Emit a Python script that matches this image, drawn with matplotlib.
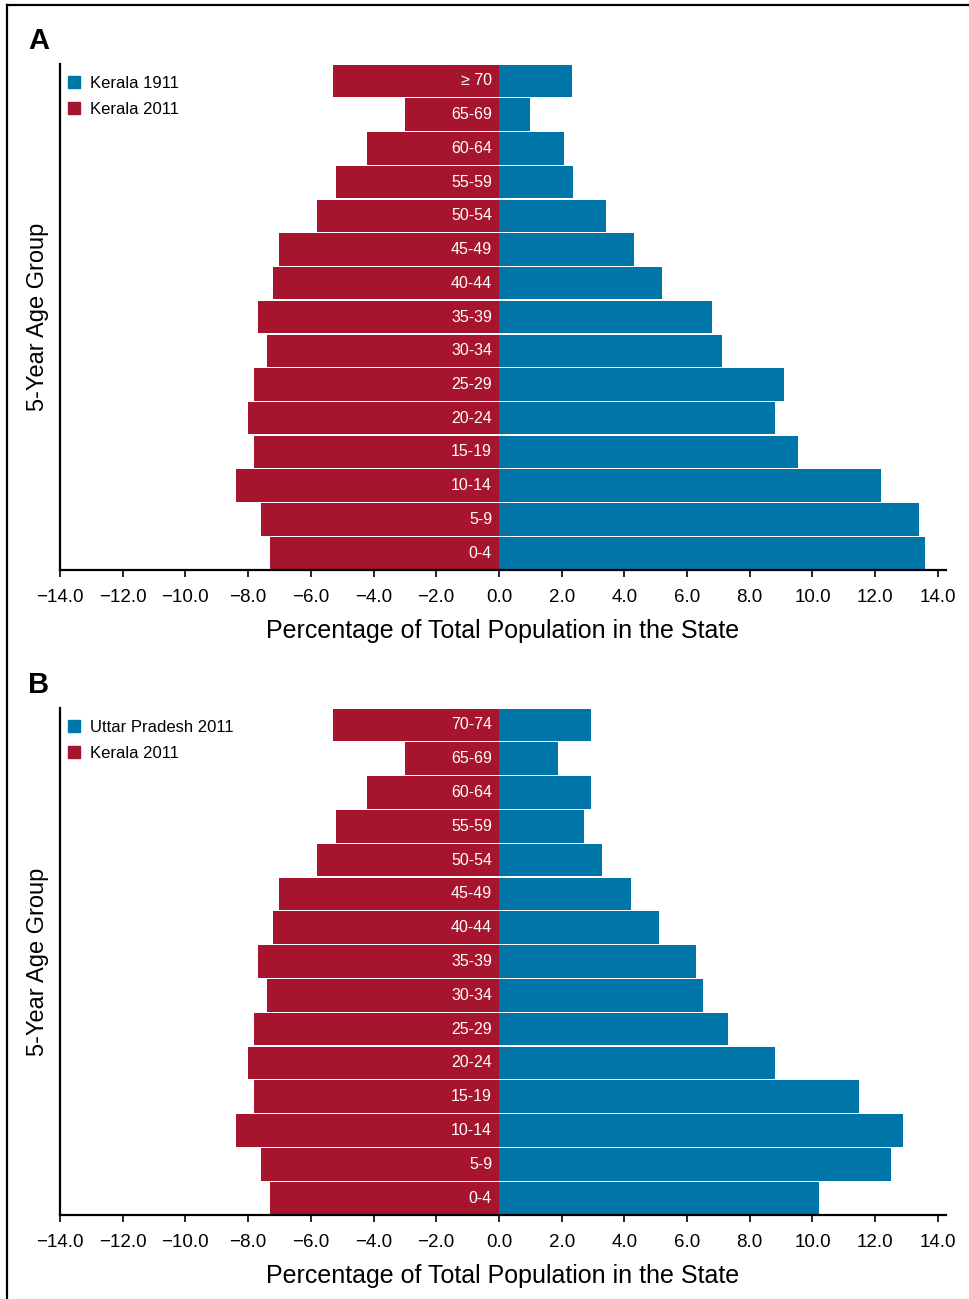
import matplotlib
matplotlib.use("Agg")
import matplotlib.pyplot as plt
from matplotlib.lines import Line2D
from matplotlib.patches import Patch
from matplotlib import font_manager

# ── Data ──────────────────────────────────────────────────────────────────────
ages_a = ["0-4", "5-9", "10-14", "15-19", "20-24", "25-29", "30-34", "35-39",
          "40-44", "45-49", "50-54", "55-59", "60-64", "65-69", "\u2265 70"]
ages_b = ages_a[:-1] + ["70-74"]

kerala_2011 = [7.3, 7.6, 8.4, 7.8, 8.0, 7.8, 7.4, 7.7,
               7.2, 7.0, 5.8, 5.2, 4.2, 3.0, 5.3]
kerala_1911 = [13.6, 13.4, 12.2, 9.55, 8.8, 9.1, 7.1, 6.8,
               5.2, 4.3, 3.4, 2.35, 2.07, 1.0, 2.32]
up_2011 = [10.2, 12.5, 12.9, 11.5, 8.8, 7.3, 6.5, 6.3,
           5.1, 4.2, 3.3, 2.7, 2.93, 1.9, 2.93]

xticks = [-14, -12, -10, -8, -6, -4, -2, 0, 2, 4, 6, 8, 10, 12, 14]

RED = "#A6152D"
BLUE = "#0076A8"

names = {f.name for f in font_manager.fontManager.ttflist}
narrow = ["Liberation Sans Narrow"] if "Liberation Sans Narrow" in names else []
cond_family = narrow + ["Liberation Sans", "DejaVu Sans"]
plain_family = ["Liberation Sans", "DejaVu Sans"]

plt.rcParams["font.family"] = plain_family

fig = plt.figure(figsize=(9.7, 12.99), dpi=100)

# frame lines (top and left)
fig.add_artist(Line2D([7 / 970, 1.0], [1 - 5 / 1299] * 2, color="black", lw=1.6,
                      transform=fig.transFigure))
fig.add_artist(Line2D([7 / 970] * 2, [0, 1 - 5 / 1299], color="black", lw=1.6,
                      transform=fig.transFigure))


def panel(rect, letter, ages, left_vals, right_vals, right_name, left_name):
    ax = fig.add_axes(rect)
    y = list(range(len(ages)))
    neg = [-v for v in left_vals]
    ax.barh(y, neg, height=0.96, color=RED, edgecolor="none")
    ax.barh(y, right_vals, height=0.96, color=BLUE, edgecolor="none")
    for yi, lab in zip(y, ages):
        ax.text(-0.22, yi, lab, color="white", ha="right", va="center",
                fontsize=11.5, family=plain_family)
    ax.set_xlim(-14, 14.26)
    ax.set_ylim(-0.5, len(ages) - 0.5)
    ax.set_xticks(xticks)
    ax.set_xticklabels([f"{t:.1f}".replace("-", "\u2212") for t in xticks],
                       family=cond_family, fontsize=13.5)
    ax.set_yticks([])
    for s in ("top", "right"):
        ax.spines[s].set_visible(False)
    ax.spines["left"].set_linewidth(1.6)
    ax.spines["bottom"].set_linewidth(1.6)
    ax.tick_params(axis="x", direction="out", length=5, width=1.2, pad=9)
    ax.set_xlabel("Percentage of Total Population in the State",
                  family=cond_family, fontsize=18, labelpad=9)
    ax.set_ylabel("5-Year Age Group", family=plain_family, fontsize=17,
                  labelpad=8)
    handles = [Patch(color=BLUE, label=right_name),
               Patch(color=RED, label=left_name)]
    ax.legend(handles=handles, loc="upper left", frameon=False, fontsize=12,
              handlelength=0.7, handleheight=0.7, handletextpad=0.6,
              labelspacing=0.65, borderaxespad=0.3,
              bbox_to_anchor=(-0.004, 1.0))
    ax.text(-0.036, 1.0 + 23 / 506, letter, transform=ax.transAxes,
            fontsize=21, fontweight="bold", ha="left", va="center")
    return ax


panel([60 / 970, 1 - 570 / 1299, 886 / 970, 506 / 1299], "A",
      ages_a, kerala_2011, kerala_1911, "Kerala 1911", "Kerala 2011")
panel([60 / 970, 1 - 1215 / 1299, 886 / 970, 507 / 1299], "B",
      ages_b, kerala_2011, up_2011, "Uttar Pradesh 2011", "Kerala 2011")

fig.savefig("out.png", dpi=100)
